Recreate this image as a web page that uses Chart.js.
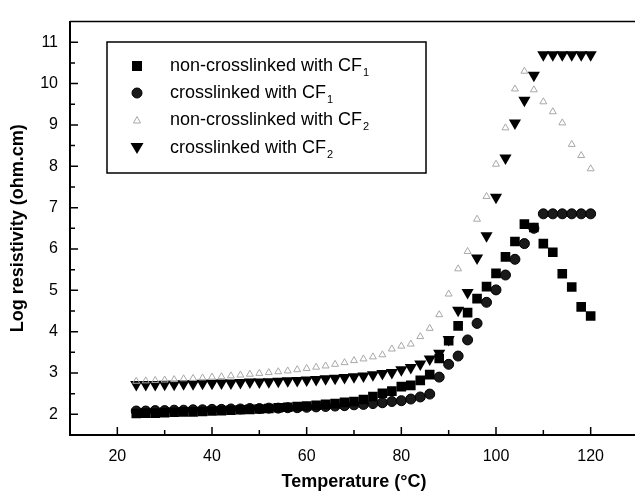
<!DOCTYPE html>
<html>
<head>
<meta charset="utf-8">
<script src="https://cdn.jsdelivr.net/npm/chart.js@4"></script>
<style>
  html, body { margin: 0; padding: 0; background: #fff; overflow: hidden; }
  #wrap { width: 645px; height: 500px; }
</style>
</head>
<body>
<div id="wrap"><canvas id="resChart"></canvas></div>
<script>
// Temperature (°C)
const temps = [24, 26, 28, 30, 32, 34, 36, 38, 40, 42, 44, 46, 48, 50, 52, 54, 56, 58, 60, 62,
  64, 66, 68, 70, 72, 74, 76, 78, 80, 82, 84, 86, 88, 90, 92, 94, 96, 98, 100, 102,
  104, 106, 108, 110, 112, 114, 116, 118, 120];

// Log resistivity (ohm.cm)
const nonCrossCF1 = [2.02, 2.03, 2.03, 2.04, 2.05, 2.06, 2.06, 2.07, 2.08, 2.09, 2.10, 2.11, 2.12, 2.13, 2.14, 2.16, 2.17, 2.19, 2.20, 2.22,
  2.24, 2.26, 2.29, 2.31, 2.36, 2.43, 2.51, 2.56, 2.67, 2.70, 2.82, 2.96, 3.35, 3.78, 4.14, 4.46, 4.80, 5.09, 5.41, 5.81,
  6.18, 6.60, 6.52, 6.13, 5.92, 5.40, 5.08, 4.60, 4.38];
const crossCF1 = [2.08, 2.08, 2.09, 2.09, 2.10, 2.10, 2.11, 2.11, 2.12, 2.12, 2.13, 2.13, 2.14, 2.14, 2.15, 2.15, 2.16, 2.16, 2.17, 2.18,
  2.19, 2.20, 2.21, 2.23, 2.24, 2.26, 2.28, 2.31, 2.33, 2.37, 2.42, 2.49, 2.90, 3.21, 3.41, 3.80, 4.20, 4.71, 5.01, 5.37,
  5.75, 6.13, 6.50, 6.85, 6.85, 6.85, 6.85, 6.85, 6.85];
const nonCrossCF2 = [2.80, 2.81, 2.82, 2.83, 2.84, 2.86, 2.87, 2.88, 2.90, 2.91, 2.93, 2.95, 2.97, 2.99, 3.01, 3.03, 3.05, 3.08, 3.11, 3.14,
  3.17, 3.21, 3.25, 3.30, 3.34, 3.39, 3.44, 3.58, 3.65, 3.70, 3.88, 4.08, 4.41, 4.91, 5.52, 5.94, 6.72, 7.27, 8.05, 8.93,
  9.87, 10.30, 9.85, 9.56, 9.32, 9.05, 8.53, 8.26, 7.94];
const crossCF2 = [2.72, 2.72, 2.72, 2.73, 2.73, 2.74, 2.74, 2.75, 2.75, 2.76, 2.76, 2.77, 2.78, 2.78, 2.79, 2.80, 2.81, 2.82, 2.83, 2.84,
  2.86, 2.87, 2.89, 2.91, 2.93, 2.96, 2.99, 3.01, 3.08, 3.13, 3.22, 3.34, 3.48, 3.81, 4.52, 4.95, 5.78, 6.32, 7.25, 8.20,
  9.05, 9.60, 10.20, 10.70, 10.70, 10.70, 10.70, 10.70, 10.70];

const seriesNames = ['non-crosslinked with CF', 'crosslinked with CF', 'non-crosslinked with CF', 'crosslinked with CF'];
const seriesSubs = ['1', '1', '2', '2'];

const xTicks = [20, 40, 60, 80, 100, 120];
const xMinor = [30, 50, 70, 90, 110];
const yTicks = [2, 3, 4, 5, 6, 7, 8, 9, 10, 11];
const yMinor = [2.5, 3.5, 4.5, 5.5, 6.5, 7.5, 8.5, 9.5, 10.5];

const FONT = 'Arial, "Liberation Sans", sans-serif';
const pts = arr => temps.map((t, i) => ({ x: t, y: arr[i] }));

// inward ticks, top frame line and the boxed legend
const frame = {
  id: 'frame',
  afterDraw(chart) {
    const { ctx, chartArea: a, scales: { x, y } } = chart;
    ctx.save();
    ctx.strokeStyle = '#000';
    ctx.lineWidth = 1.5;
    ctx.beginPath();
    ctx.moveTo(a.left, a.top); ctx.lineTo(a.right, a.top);
    const tick = (px, py, dx, dy) => { ctx.moveTo(px, py); ctx.lineTo(px + dx, py + dy); };
    xTicks.forEach(v => tick(x.getPixelForValue(v), a.bottom, 0, -8));
    xMinor.forEach(v => tick(x.getPixelForValue(v), a.bottom, 0, -5));
    yTicks.forEach(v => tick(a.left, y.getPixelForValue(v), 8, 0));
    yMinor.forEach(v => tick(a.left, y.getPixelForValue(v), 5, 0));
    ctx.stroke();

    // legend
    ctx.lineWidth = 1.5;
    ctx.strokeRect(107, 42, 319, 131);
    const rows = [66, 93, 120, 148];
    chart.data.datasets.forEach((ds, i) => {
      const cy = rows[i], cx = 137;
      ctx.beginPath();
      ctx.fillStyle = ds.backgroundColor;
      ctx.strokeStyle = ds.borderColor;
      ctx.lineWidth = 1;
      if (ds.pointStyle === 'rect') {
        ctx.fillRect(cx - 5, cy - 5, 10, 10);
      } else if (ds.pointStyle === 'circle') {
        ctx.arc(cx, cy, 5, 0, Math.PI * 2); ctx.fill(); ctx.stroke();
      } else if (ds.pointRotation === 180) {
        ctx.moveTo(cx - 6.5, cy - 5); ctx.lineTo(cx + 6.5, cy - 5); ctx.lineTo(cx, cy + 6);
        ctx.closePath(); ctx.fill();
      } else {
        ctx.moveTo(cx - 3.5, cy + 3); ctx.lineTo(cx + 3.5, cy + 3); ctx.lineTo(cx, cy - 3.5);
        ctx.closePath(); ctx.stroke();
      }
      ctx.fillStyle = '#000';
      ctx.textBaseline = 'middle';
      ctx.font = '18px ' + FONT;
      ctx.fillText(seriesNames[i], 170, cy);
      const w = ctx.measureText(seriesNames[i]).width;
      ctx.font = '11px ' + FONT;
      ctx.fillText(seriesSubs[i], 170 + w + 1, cy + 7);
    });
    ctx.restore();
  }
};

new Chart(document.getElementById('resChart'), {
  type: 'scatter',
  data: {
    datasets: [
      { label: 'non-crosslinked with CF1', data: pts(nonCrossCF1), pointStyle: 'rect', pointRadius: 6.8,
        backgroundColor: '#000', borderColor: '#000', borderWidth: 0 },
      { label: 'crosslinked with CF1', data: pts(crossCF1), pointStyle: 'circle', pointRadius: 5,
        backgroundColor: '#1a1a1a', borderColor: '#000', borderWidth: 1 },
      { label: 'non-crosslinked with CF2', data: pts(nonCrossCF2), pointStyle: 'triangle', pointRadius: 4,
        backgroundColor: 'rgba(0,0,0,0)', borderColor: '#a8a8a8', borderWidth: 1 },
      { label: 'crosslinked with CF2', data: pts(crossCF2), pointStyle: 'triangle', pointRotation: 180, pointRadius: 7,
        backgroundColor: '#000', borderColor: '#000', borderWidth: 0 }
    ]
  },
  options: {
    responsive: true,
    maintainAspectRatio: false,
    animation: false,
    layout: { padding: { top: 13, right: 2, left: 0, bottom: 0 } },
    plugins: { legend: { display: false }, tooltip: { enabled: false } },
    scales: {
      x: {
        type: 'linear', min: 10, max: 130,
        afterBuildTicks: s => { s.ticks = xTicks.map(v => ({ value: v })); },
        afterFit: s => { s.height = 65; },
        grid: { display: false, drawTicks: false },
        border: { display: true, color: '#000', width: 2 },
        ticks: { color: '#000', font: { family: FONT, size: 16 }, padding: 12 },
        title: { display: true, text: 'Temperature (°C)', color: '#000',
          font: { family: FONT, size: 18, weight: 'bold' }, padding: { top: 0, bottom: 7 } }
      },
      y: {
        type: 'linear', min: 1.5, max: 11.5,
        afterBuildTicks: s => { s.ticks = yTicks.map(v => ({ value: v })); },
        afterFit: s => { s.width = 70; },
        grid: { display: false, drawTicks: false },
        border: { display: true, color: '#000', width: 2 },
        ticks: { color: '#000', font: { family: FONT, size: 16 }, padding: 12 },
        title: { display: true, text: 'Log resistivity (ohm.cm)', color: '#000',
          font: { family: FONT, size: 18, weight: 'bold' }, padding: { top: 7, bottom: 0 } }
      }
    }
  },
  plugins: [frame]
});
</script>
</body>
</html>
